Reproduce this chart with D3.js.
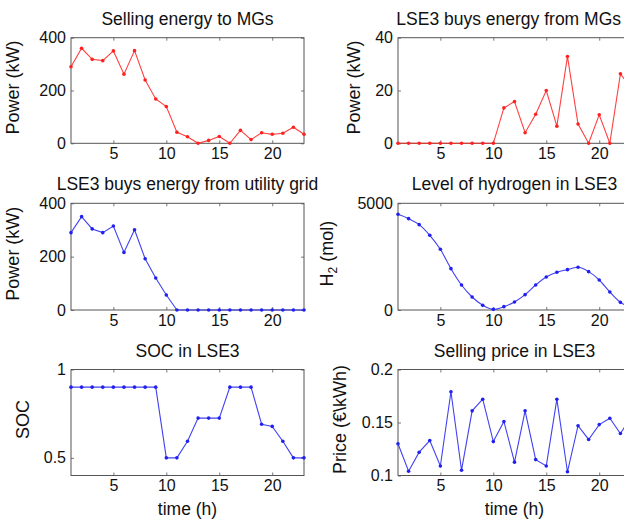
<!DOCTYPE html>
<html><head><meta charset="utf-8">
<script src="https://cdn.jsdelivr.net/npm/d3@7"></script>
<style>
body{margin:0;background:#fff;}
svg{display:block;font-family:"Liberation Sans",Arial,sans-serif;}
</style></head>
<body><svg id="c" width="624" height="525"></svg>
<script>
const hours = d3.range(1, 24);
const sellMG = [290,360,318,313,350,262,351,240,168,139,42,25,0,11,26,0,49,14,40,34,38,61,34];
const buyMG = [0,0,0,0,0,0,0,0,0,0,13.4,15.8,4,11,20,6.5,32.9,7.3,0,10.8,0,26.3,21];
const buyGrid = [290,350,304,290,315,216,301,192,120,56,0,0,0,0,0,0,0,0,0,0,0,0,0];
const hydrogen = [4484,4281,4000,3500,2844,1937,1172,609,219,31,156,375,719,1172,1547,1766,1890,2000,1797,1406,844,359,130];
const soc = [0.9,0.9,0.9,0.9,0.9,0.9,0.9,0.9,0.9,0.5,0.5,0.594,0.725,0.725,0.725,0.9,0.9,0.9,0.69,0.678,0.594,0.5,0.5];
const price = [0.13,0.104,0.122,0.133,0.109,0.179,0.105,0.161,0.172,0.132,0.151,0.1126,0.161,0.115,0.109,0.172,0.1035,0.147,0.134,0.148,0.154,0.1396,0.155];
const xTicks = [5,10,15,20];

const panels = [
  {title:"Selling energy to MGs", ylabel:"Power (kW)", data:sellMG, ydom:[0,400], yticks:[0,200,400], color:"#ff2020", x0:71, y0:37.7, y1:143.3, lx:52},
  {title:"LSE3 buys energy from MGs", ylabel:"Power (kW)", data:buyMG, ydom:[0,40], yticks:[0,20,40], color:"#ff2020", x0:398, y0:37.7, y1:143.3, lx:38},
  {title:"LSE3 buys energy from utility grid", ylabel:"Power (kW)", data:buyGrid, ydom:[0,400], yticks:[0,200,400], color:"#2020f0", x0:71, y0:203.3, y1:310, lx:52},
  {title:"Level of hydrogen in LSE3", ylabel:"H2", data:hydrogen, ydom:[0,5000], yticks:[0,5000], color:"#2020f0", x0:398, y0:203.3, y1:310, smooth:true, lx:65},
  {title:"SOC in LSE3", ylabel:"SOC", data:soc, ydom:[0.4,1], yticks:[0.5,1], color:"#2020f0", x0:71, y0:369.5, y1:475.5, xlabel:true, lx:42},
  {title:"Selling price in LSE3", ylabel:"Price (€\\kWh)", data:price, ydom:[0.1,0.2], yticks:[0.1,0.15,0.2], color:"#2020f0", x0:398, y0:369.5, y1:475.5, xlabel:true, lx:52}
];
const W = 233;
const svg = d3.select("#c");
const axisCol = "#555";
const txtCol = "#111";

panels.forEach(p => {
  const g = svg.append("g");
  const x = d3.scaleLinear().domain([1,23]).range([p.x0, p.x0+W]);
  const y = d3.scaleLinear().domain(p.ydom).range([p.y1, p.y0]);
  const fmt = d => String(d);
  const ax = g.append("g").attr("transform",`translate(0,${p.y1})`)
    .call(d3.axisBottom(x).tickValues(xTicks).tickSizeInner(-3).tickSizeOuter(0).tickPadding(4).tickFormat(fmt));
  const axT = g.append("g").attr("transform",`translate(0,${p.y0})`)
    .call(d3.axisTop(x).tickValues(xTicks).tickSizeInner(-3).tickSizeOuter(0).tickFormat(""));
  const ay = g.append("g").attr("transform",`translate(${p.x0},0)`)
    .call(d3.axisLeft(y).tickValues(p.yticks).tickSizeInner(-3).tickSizeOuter(0).tickPadding(5).tickFormat(fmt));
  const ayR = g.append("g").attr("transform",`translate(${p.x0+W},0)`)
    .call(d3.axisRight(y).tickValues(p.yticks).tickSizeInner(-3).tickSizeOuter(0).tickFormat(""));
  [ax,axT,ay,ayR].forEach(a=>{
    a.select(".domain").remove();
    a.selectAll("line").attr("stroke",axisCol).attr("stroke-width",0.8);
    a.selectAll("text").attr("fill",txtCol).style("font-size","16px").style("font-family","'Liberation Sans',Arial,sans-serif");
  });
  ax.selectAll("text").attr("dy","0.72em");
  g.append("rect").attr("x",p.x0).attr("y",p.y0).attr("width",W).attr("height",p.y1-p.y0)
    .attr("fill","none").attr("stroke",axisCol).attr("stroke-width",1);
  const line = d3.line().x((d,i)=>x(hours[i])).y(d=>y(d));
  if (p.smooth) line.curve(d3.curveMonotoneX);
  g.append("path").datum(p.data).attr("d",line).attr("fill","none")
    .attr("stroke",p.color).attr("stroke-width",1.1).attr("stroke-opacity",0.85);
  g.selectAll("circle.pt").data(p.data).join("circle").attr("class","pt")
    .attr("cx",(d,i)=>x(hours[i])).attr("cy",d=>y(d)).attr("r",1.8).attr("fill",p.color);
  const t = g.append("text").attr("x",p.x0+W/2).attr("y",p.y0-13).attr("text-anchor","middle")
    .attr("fill",txtCol).style("font-size","17.5px").text(p.title);
  const tw = t.node().getComputedTextLength();
  if (p.x0+W/2+tw/2 > 621) t.attr("text-anchor","end").attr("x",621);
  const yl = g.append("text").attr("transform",`translate(${p.x0-p.lx},${(p.y0+p.y1)/2 - 3}) rotate(-90)`)
    .attr("text-anchor","middle").attr("fill",txtCol).style("font-size","18px");
  if (p.ylabel==="H2") {
    yl.append("tspan").text("H");
    yl.append("tspan").attr("dy","0.35em").style("font-size","12px").text("2");
    yl.append("tspan").attr("dy","-0.25em").text(" (mol)");
  } else yl.text(p.ylabel);
  if (p.xlabel) {
    g.append("text").attr("x",p.x0+W/2).attr("y",p.y1+39).attr("text-anchor","middle")
      .attr("fill",txtCol).style("font-size","17.5px").text("time (h)");
  }
});
</script></body></html>
